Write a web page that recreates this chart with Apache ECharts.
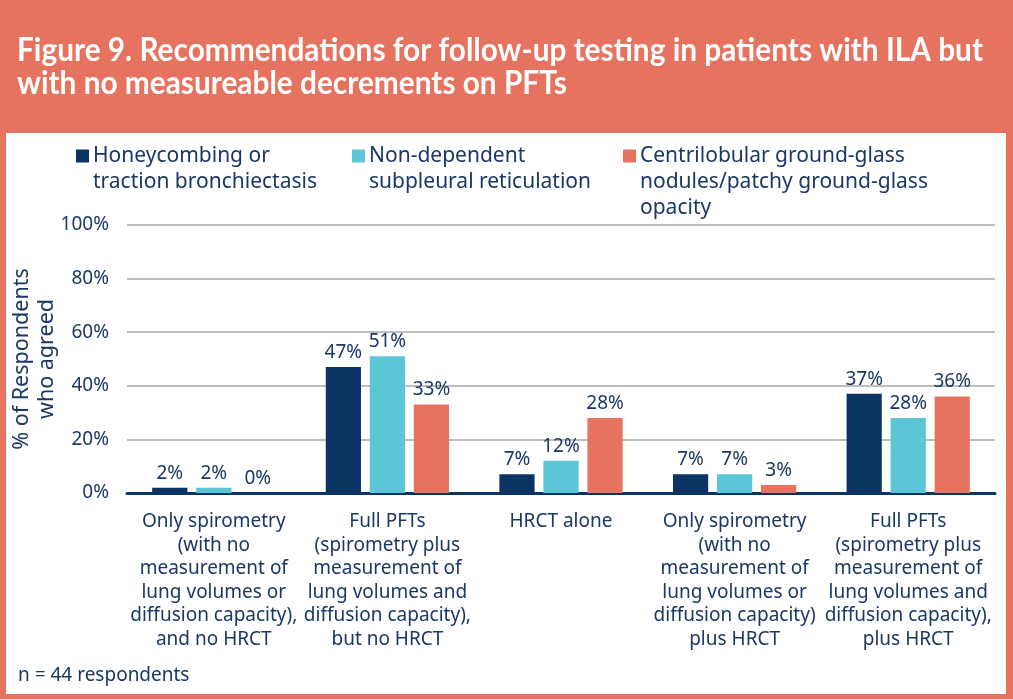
<!DOCTYPE html>
<html>
<head>
<meta charset="utf-8">
<script src="https://cdn.jsdelivr.net/npm/echarts@6/dist/echarts.min.js"></script>
<style>
html,body{margin:0;padding:0;background:#E6735F;}
#chart{width:1013px;height:699px;}
</style>
</head>
<body>
<div id="chart"></div>
<script>
var categories = [
  "Only spirometry\n(with no\nmeasurement of\nlung volumes or\ndiffusion capacity),\nand no HRCT",
  "Full PFTs\n(spirometry plus\nmeasurement of\nlung volumes and\ndiffusion capacity),\nbut no HRCT",
  "HRCT alone",
  "Only spirometry\n(with no\nmeasurement of\nlung volumes or\ndiffusion capacity)\nplus HRCT",
  "Full PFTs\n(spirometry plus\nmeasurement of\nlung volumes and\ndiffusion capacity),\nplus HRCT"
];
var seriesNames = [
  "Honeycombing or traction bronchiectasis",
  "Non-dependent subpleural reticulation",
  "Centrilobular ground-glass nodules/patchy ground-glass opacity"
];
var legendLabels = [
  " \nHoneycombing or\ntraction bronchiectasis",
  " \nNon-dependent\nsubpleural reticulation",
  " \n \nCentrilobular ground-glass\nnodules/patchy ground-glass\nopacity"
];
var honeycombing = [2, 47, 7, 7, 37];
var reticulation = [2, 51, 12, 7, 28];
var groundGlass = [0, 33, 28, 3, 36];
var yTicks = [0, 20, 40, 60, 80, 100];
var titleLines = ["Figure 9. Recommendations for follow-up testing in patients with ILA but", "with no measureable decrements on PFTs"];
var footnote = "n = 44 respondents";

var NAVY = "#0B3463";
var CYAN = "#5BC6D6";
var SALMON = "#E6735F";
var TEXT = "#1A3766";
var FONT = "'Noto Sans', sans-serif";
var TITLE_FONT = "bold 32px Lato, 'Noto Sans', sans-serif";

// horizontal condensing factor so the title fits its band like the original condensed face
var cv = document.createElement('canvas').getContext('2d');
cv.font = TITLE_FONT;
var titleScale = 966 / cv.measureText(titleLines[0]).width;

var chart = echarts.init(document.getElementById('chart'));
function legendCfg(i, left, top) {
  return {
    left: left, top: top, padding: 0,
    orient: 'horizontal',
    selectedMode: false,
    data: [seriesNames[i]],
    icon: 'rect', itemWidth: 13, itemHeight: 13, itemGap: 0,
    formatter: function () { return legendLabels[i]; },
    textStyle: { color: TEXT, fontSize: 21, lineHeight: 26, fontFamily: FONT, padding: [0,0,0,-1] }
  };
}
var labelCfg = {
  show: true, position: 'top', distance: 5,
  formatter: '{c}%', color: TEXT, fontSize: 19, fontFamily: FONT
};
chart.setOption({
  backgroundColor: SALMON,
  textStyle: { fontFamily: FONT },
  title: [{
    text: footnote, left: 18, top: 666, padding: 0,
    textStyle: { color: TEXT, fontSize: 19, fontWeight: 'normal', fontFamily: FONT }
  }],
  graphic: [{
    type: 'rect', z: -10, silent: true,
    shape: { x: 6, y: 133, width: 1000, height: 561 },
    style: { fill: '#FFFFFF' }
  }, {
    type: 'text', silent: true, x: 17, y: 34, scaleX: titleScale, scaleY: 1,
    style: { text: titleLines.join('\n'), font: TITLE_FONT, fill: '#FFFFFF', lineHeight: 33 }
  }],
  legend: [legendCfg(0, 76, 117), legendCfg(1, 352, 117), legendCfg(2, 623, 91)],
  grid: { left: 127, right: 18, top: 225, bottom: 206, containLabel: false, outerBoundsMode: 'none' },
  xAxis: {
    type: 'category', data: categories,
    axisLine: { lineStyle: { color: NAVY, width: 3 } },
    axisTick: { show: false },
    axisLabel: { interval: 0, color: TEXT, fontSize: 19, lineHeight: 23.5, margin: 17, fontFamily: FONT }
  },
  yAxis: {
    type: 'value', min: 0, max: 100, interval: 20,
    name: '% of Respondents\nwho agreed', nameLocation: 'middle', nameGap: 68, nameRotate: 90,
    nameMoveOverlap: false,
    nameTextStyle: { color: TEXT, fontSize: 21.5, lineHeight: 25, fontFamily: FONT },
    axisLine: { show: false }, axisTick: { show: false },
    axisLabel: { formatter: function (v) { return v + '%'; }, color: TEXT, fontSize: 19, margin: 18, padding: [4,0,0,0], fontFamily: FONT },
    splitLine: { lineStyle: { color: '#A8A8A8', width: 1.5 } }
  },
  series: [
    { name: seriesNames[0], type: 'bar', data: honeycombing, barGap: '25%', barCategoryGap: '29%',
      itemStyle: { color: NAVY }, label: labelCfg },
    { name: seriesNames[1], type: 'bar', data: reticulation,
      itemStyle: { color: CYAN }, label: labelCfg },
    { name: seriesNames[2], type: 'bar', data: groundGlass,
      itemStyle: { color: SALMON }, label: labelCfg }
  ]
});
</script>
</body>
</html>
